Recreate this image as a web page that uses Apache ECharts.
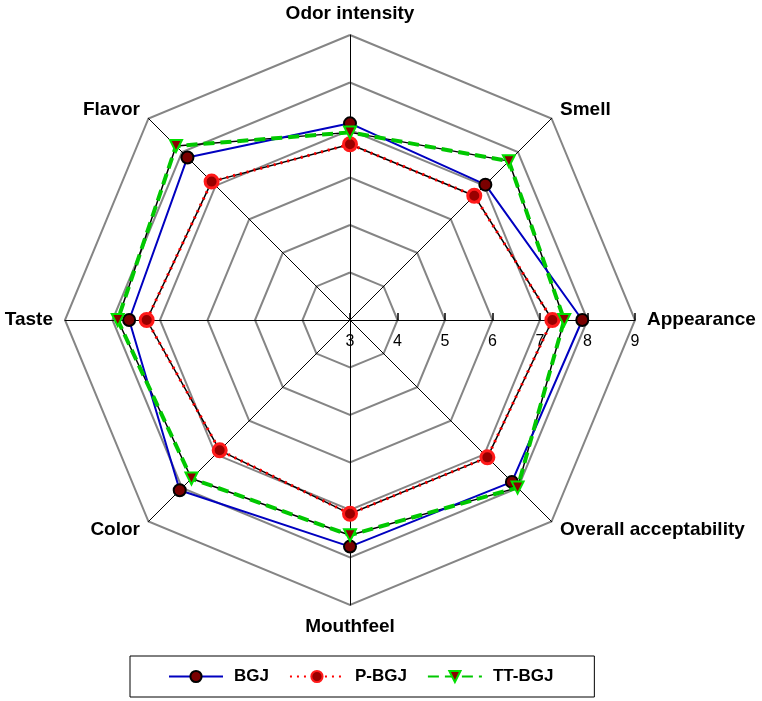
<!DOCTYPE html>
<html><head><meta charset="utf-8">
<script src="https://cdn.jsdelivr.net/npm/echarts@6/dist/echarts.min.js"></script>
<style>html,body{margin:0;padding:0;background:#fff}#c{width:762px;height:701px}</style>
</head><body><div id="c"></div>
<script>
// Indicators in ECharts (counter-clockwise) order starting at top
const indicators = ["Odor intensity","Flavor","Taste","Color","Mouthfeel","Overall acceptability","Appearance","Smell"];
const tickLabels = [3,4,5,6,7,8,9];
const BGJ   = [7.14, 7.84, 7.65, 8.07, 7.77, 7.82, 7.89, 7.03];
const PBGJ  = [6.70, 7.12, 7.28, 6.88, 7.08, 7.09, 7.26, 6.70];
const TTBGJ = [6.95, 8.18, 7.89, 7.72, 7.53, 7.99, 7.51, 7.73];
const seriesNames = ["BGJ","P-BGJ","TT-BGJ"];

const FONT = "Liberation Sans, Arial, sans-serif";
const vmin = tickLabels[0], vmax = tickLabels[tickLabels.length-1];

const styles = {
  "BGJ":   {line:{color:"#0000c0",width:2,type:"solid"}, symbol:"circle", size:12, item:{color:"#7a0000",borderColor:"#000",borderWidth:2}},
  "P-BGJ": {line:{color:"#ff0000",width:3,type:[2,5]}, symbol:"circle", size:13, item:{color:"#990000",borderColor:"#ff1a1a",borderWidth:3}},
  "TT-BGJ":{line:{color:"#00c800",width:4,type:[11,6]}, symbol:"triangle", size:12, rotate:180, item:{color:"#8b0000",borderColor:"#00e000",borderWidth:2}}
};
const dataMap = {"BGJ":BGJ,"P-BGJ":PBGJ,"TT-BGJ":TTBGJ};

const chart = echarts.init(document.getElementById('c'));
const series = [];
// legend-driving empty line series
seriesNames.forEach(n=>{
  const s = styles[n];
  series.push({type:'line', name:n, xAxisIndex:0, yAxisIndex:0, data:[], symbol:s.symbol, symbolRotate:s.rotate||0,
    symbolSize:s.size, lineStyle:s.line, itemStyle:s.item});
});
// black underlay lines
["P-BGJ","TT-BGJ"].forEach(n=>{
  series.push({type:'radar', name:'_u'+n, silent:true, symbol:'none', z:2,
    lineStyle:{color:'#000',width:1.5}, data:[{value:dataMap[n]}]});
});
seriesNames.forEach((n,i)=>{
  const s = styles[n];
  series.push({type:'radar', name:n, z:3+i, symbol:s.symbol, symbolRotate:s.rotate||0, symbolSize:s.size,
    lineStyle:s.line, itemStyle:s.item, data:[{value:dataMap[n], name:n}]});
});

chart.setOption({
  backgroundColor:'#fff',
  animation:false,
  radar:{
    center:[350,320], radius:285, startAngle:90, shape:'polygon',
    splitNumber:tickLabels.length-1,
    indicator:indicators.map(n=>({name:n,min:vmin,max:vmax})),
    axisName:{color:'#000',fontFamily:FONT,fontWeight:'bold',fontSize:19},
    nameGap:12,
    splitLine:{lineStyle:{color:'#858585',width:2}},
    splitArea:{show:false},
    axisLine:{lineStyle:{color:'#000',width:1}},
    axisTick:{show:false},
    axisLabel:{show:false}
  },
  grid:{left:350, width:285, top:319, height:1},
  xAxis:{type:'value', min:vmin, max:vmax, interval:1, position:'bottom',
    axisLine:{show:false}, splitLine:{show:false},
    axisTick:{show:true, inside:true, length:7, lineStyle:{color:'#000',width:1.5}},
    axisLabel:{color:'#000',fontFamily:FONT,fontSize:16,margin:14}},
  yAxis:{type:'value', show:false},
  legend:{
    data:seriesNames, bottom:4, left:130,
    padding:[12,41,12,38],
    borderColor:'#000', borderWidth:1,
    itemWidth:54, itemHeight:14, itemGap:20,
    textStyle:{color:'#000',fontFamily:FONT,fontWeight:'bold',fontSize:17,padding:[0,0,0,6]}
  },
  series:series
});
</script></body></html>
